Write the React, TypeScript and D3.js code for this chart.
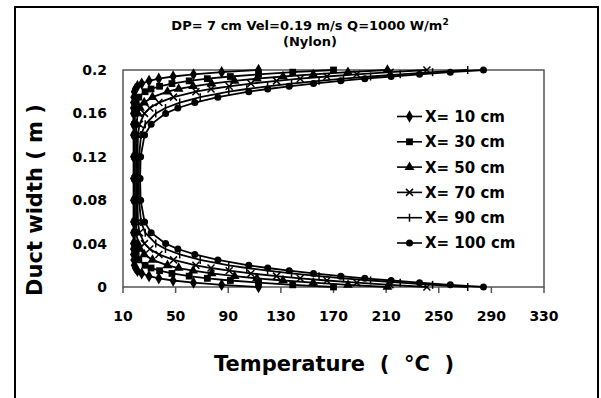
import React from 'react';
import * as d3 from 'd3';

// Duct width positions (m) where temperatures were sampled
const DUCT_WIDTH = [0, 0.002, 0.004, 0.006, 0.008, 0.01, 0.0125, 0.015, 0.0175, 0.02, 0.025, 0.03, 0.035, 0.04, 0.05, 0.06, 0.08, 0.1,
  0.12, 0.14, 0.15, 0.16, 0.165, 0.17, 0.175, 0.18, 0.1825, 0.185, 0.1875, 0.19, 0.192, 0.194, 0.196, 0.198, 0.2];

const SERIES_NAMES = ['X= 10 cm', 'X= 30 cm', 'X= 50 cm', 'X= 70 cm', 'X= 90 cm', 'X= 100 cm'];
const SERIES_MARKERS = ['diamond', 'square', 'triangle', 'cross', 'tick', 'circle'];

const T_X10 = [113, 85, 63.6, 48.1, 37.2, 29.8, 24.2, 21.0, 19.4, 18.6, 18.2, 18.0, 18.0, 18.0, 18.0, 18.0, 18.0, 18.0,
  18.0, 18.0, 18.0, 18.0, 18.0, 18.0, 18.2, 18.6, 19.4, 21.0, 24.2, 29.8, 37.2, 48.1, 63.6, 85, 113];
const T_X30 = [170, 139.0, 113.0, 91.6, 74.1, 60.3, 47.2, 37.8, 31.3, 26.8, 22.0, 20.0, 19.3, 19.1, 19.0, 19.0, 19.0, 19.0,
  19.0, 19.0, 19.0, 19.1, 19.3, 20.0, 22.0, 26.8, 31.3, 37.8, 47.2, 60.3, 74.1, 91.6, 113.0, 139.0, 170];
const T_X50 = [211, 181, 154.6, 131.6, 111.8, 94.8, 77.3, 63.3, 52.3, 43.8, 32.4, 26.1, 22.9, 21.3, 20.2, 20.0, 20.0, 20.0,
  20.0, 20.0, 20.2, 21.3, 22.9, 26.1, 32.4, 43.8, 52.3, 63.3, 77.3, 94.8, 111.8, 131.6, 154.6, 181, 211];
const T_X70 = [241, 213, 187.7, 165, 144.7, 126.7, 107.2, 90.7, 76.9, 65.4, 48.4, 37.3, 30.4, 26.3, 22.5, 21.4, 21.0, 21.0,
  21.0, 21.4, 22.5, 26.3, 30.4, 37.3, 48.4, 65.4, 76.9, 90.7, 107.2, 126.7, 144.7, 165, 187.7, 213, 241];
const T_X90 = [272, 245.3, 220.7, 198.2, 177.6, 159, 138.1, 119.9, 104.1, 90.4, 68.7, 53.1, 42.3, 34.9, 26.9, 23.7, 22.2, 22.0,
  22.2, 23.7, 26.9, 34.9, 42.3, 53.1, 68.7, 90.4, 104.1, 119.9, 138.1, 159, 177.6, 198.2, 220.7, 245.3, 272];
const T_X100 = [284, 258.8, 235.4, 213.8, 193.8, 175.5, 154.8, 136.3, 120, 105.6, 82.1, 64.6, 51.7, 42.4, 31.4, 26.4, 23.4, 23.0,
  23.4, 26.4, 31.4, 42.4, 51.7, 64.6, 82.1, 105.6, 120, 136.3, 154.8, 175.5, 193.8, 213.8, 235.4, 258.8, 284];

const SERIES_VALUES = [T_X10, T_X30, T_X50, T_X70, T_X90, T_X100];

const X_TICKS = [10, 50, 90, 130, 170, 210, 250, 290, 330];
const Y_TICKS = [0, 0.04, 0.08, 0.12, 0.16, 0.2];
const Y_TICK_LABELS = ['0', '0.04', '0.08', '0.12', '0.16', '0.2'];

const FONT = '"DejaVu Sans", Verdana, sans-serif';

function Marker({ kind, cx, cy }: { kind: string; cx: number; cy: number }) {
  const t = `translate(${cx},${cy})`;
  if (kind === 'diamond') return <path transform={t} d={d3.symbol(d3.symbolDiamond, 44)() || ''} fill="#000" />;
  if (kind === 'square') return <path transform={t} d={d3.symbol(d3.symbolSquare, 46)() || ''} fill="#000" />;
  if (kind === 'triangle') return <path transform={t} d={d3.symbol(d3.symbolTriangle, 42)() || ''} fill="#000" />;
  if (kind === 'cross') return <path transform={t} d="M-3.5,-3.5L3.5,3.5M-3.5,3.5L3.5,-3.5" stroke="#000" strokeWidth={1.5} fill="none" />;
  if (kind === 'tick') return <path transform={t} d="M0,-4V4" stroke="#000" strokeWidth={1.5} fill="none" />;
  return <circle cx={cx} cy={cy} r={3.5} fill="#000" />;
}

export default function App() {
  const x = d3.scaleLinear().domain([10, 330]).range([123, 544]);
  const y = d3.scaleLinear().domain([0, 0.2]).range([287, 70]);
  const line = d3.line<number>().x((d) => x(d)).y((_, i) => y(DUCT_WIDTH[i]));

  const legendY = d3.scaleLinear().domain([0, 5]).range([116.5, 243]);

  return (
    <svg width={601} height={398} style={{ position: 'absolute', left: 0, top: 0, background: '#fff' }}
      fontFamily={FONT} fontWeight="bold">
      <rect x={0} y={0} width={601} height={398} fill="#fff" />
      {/* outer chart frame */}
      <rect x={15} y={7} width={583} height={420} fill="none" stroke="#000" strokeWidth={2} />

      {/* title */}
      <text x={310} y={30} textAnchor="middle" fontSize={13}>
        DP= 7 cm Vel=0.19 m/s Q=1000 W/m<tspan dy={-5} fontSize={9}>2</tspan>
      </text>
      <text x={310} y={46} textAnchor="middle" fontSize={13}>(Nylon)</text>

      {/* plot frame */}
      <rect x={123} y={70} width={421} height={217} fill="none" stroke="#555" strokeWidth={1.5} />

      {/* x ticks */}
      {X_TICKS.map((t) => (
        <g key={t}>
          <line x1={x(t)} x2={x(t)} y1={287} y2={293} stroke="#555" strokeWidth={1.5} />
          <text x={x(t)} y={321} textAnchor="middle" fontSize={14}>{t}</text>
        </g>
      ))}
      {/* y labels */}
      {Y_TICKS.map((t, i) => (
        <text key={t} x={107} y={y(t)} dy="0.36em" textAnchor="end" fontSize={14}>{Y_TICK_LABELS[i]}</text>
      ))}

      {/* series */}
      {SERIES_VALUES.map((vals, s) => (
        <g key={s}>
          <path d={line(vals) || ''} fill="none" stroke="#000" strokeWidth={1.8} />
          {vals.map((v, i) => (
            <Marker key={i} kind={SERIES_MARKERS[s]} cx={x(v)} cy={y(DUCT_WIDTH[i])} />
          ))}
        </g>
      ))}

      {/* legend */}
      {SERIES_NAMES.map((name, s) => (
        <g key={name}>
          <line x1={397} x2={422} y1={legendY(s)} y2={legendY(s)} stroke="#000" strokeWidth={1.6} />
          <Marker kind={SERIES_MARKERS[s]} cx={409.5} cy={legendY(s)} />
          <text x={425} y={legendY(s)} dy="0.36em" fontSize={15}>{name}</text>
        </g>
      ))}

      {/* axis titles */}
      <text x={334} y={371} textAnchor="middle" fontSize={21} style={{ whiteSpace: 'pre' }}>
        {'Temperature  (  °C  )'}
      </text>
      <text transform={`translate(42,200) rotate(-90)`} textAnchor="middle" fontSize={21} style={{ whiteSpace: 'pre' }}>
        {'Duct width ( m )'}
      </text>
    </svg>
  );
}
